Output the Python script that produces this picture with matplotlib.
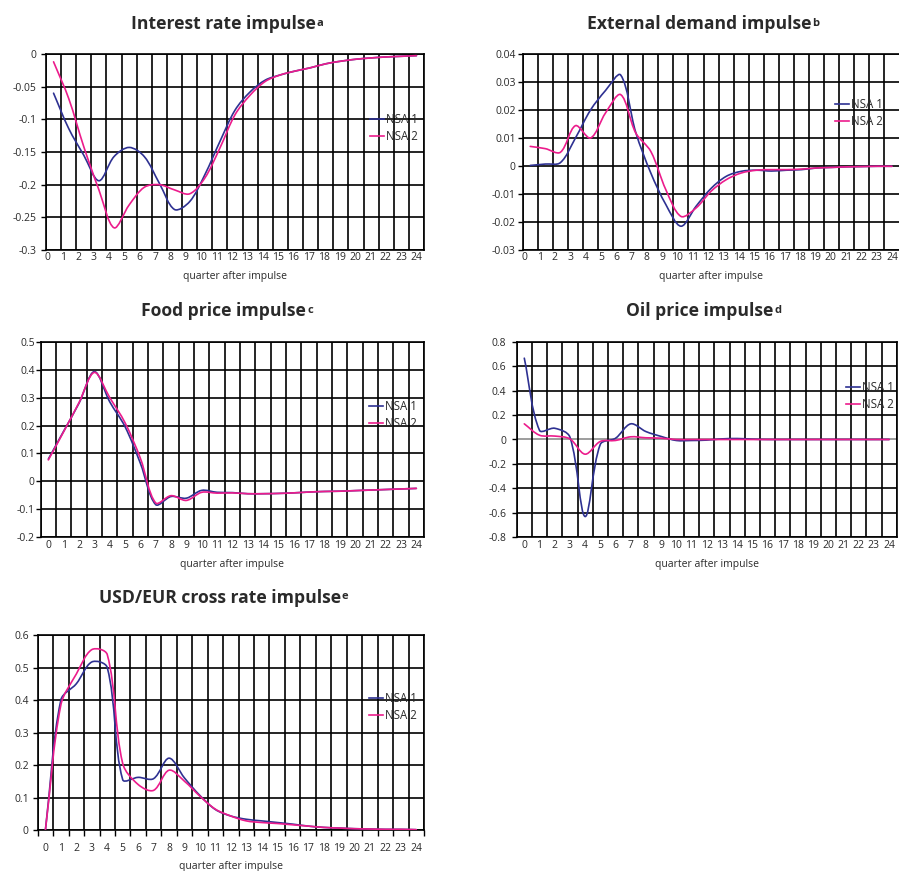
import numpy as np
import matplotlib
matplotlib.use("Agg")
import matplotlib.pyplot as plt
from matplotlib.path import Path
from matplotlib.patches import PathPatch
from matplotlib.lines import Line2D

plt.rcParams["font.family"] = ["Open Sans", "DejaVu Sans"]
plt.rcParams["axes.unicode_minus"] = False

quarters = list(range(25))
quarter_labels = [str(q) for q in quarters]
series_names = ["NSA 1", "NSA 2"]

interest_nsa1 = [-0.060, -0.114, -0.155, -0.194, -0.157, -0.143, -0.157, -0.198, -0.238, -0.226,
                 -0.185, -0.134, -0.086, -0.058, -0.040, -0.032, -0.026, -0.021, -0.015, -0.011,
                 -0.008, -0.006, -0.0045, -0.0035, -0.0025]
interest_nsa2 = [-0.012, -0.068, -0.142, -0.208, -0.266, -0.231, -0.204, -0.200, -0.208, -0.214,
                 -0.190, -0.144, -0.093, -0.063, -0.042, -0.032, -0.026, -0.021, -0.015, -0.011,
                 -0.008, -0.006, -0.0045, -0.0035, -0.0025]

demand_nsa1 = [0.0002, 0.0007, 0.0012, 0.0100, 0.0200, 0.0270, 0.0325, 0.0120, -0.0025, -0.0138,
               -0.0215, -0.0144, -0.0080, -0.0037, -0.0019, -0.0015, -0.0018, -0.0015, -0.0013, -0.0007,
               -0.0005, -0.0003, -0.0002, -0.0001, -0.0001]
demand_nsa2 = [0.0070, 0.0062, 0.0049, 0.0144, 0.0100, 0.0190, 0.0255, 0.0118, 0.0052, -0.0085,
               -0.0180, -0.0150, -0.0090, -0.0049, -0.0025, -0.0015, -0.0013, -0.0013, -0.0011, -0.0007,
               -0.0005, -0.0003, -0.0002, -0.0001, -0.0001]

food_nsa1 = [0.080, 0.180, 0.280, 0.393, 0.285, 0.196, 0.065, -0.083, -0.054, -0.060,
             -0.032, -0.039, -0.040, -0.044, -0.044, -0.043, -0.041, -0.038, -0.036, -0.035,
             -0.033, -0.031, -0.029, -0.027, -0.025]
food_nsa2 = [0.077, 0.178, 0.282, 0.390, 0.300, 0.210, 0.083, -0.077, -0.051, -0.068,
             -0.039, -0.042, -0.041, -0.044, -0.044, -0.043, -0.041, -0.038, -0.036, -0.035,
             -0.033, -0.031, -0.029, -0.027, -0.025]

oil_nsa1 = [0.665, 0.075, 0.092, 0.020, -0.630, -0.040, 0.010, 0.128, 0.065, 0.025,
            -0.008, -0.008, -0.005, 0.005, 0.008, 0.003, 0.0, 0.0, 0.0, 0.0,
            0.0, 0.0, 0.0, 0.0, 0.0]
oil_nsa2 = [0.128, 0.035, 0.028, 0.005, -0.120, -0.016, -0.008, 0.022, 0.014, 0.011,
            0.0, 0.0, 0.0, 0.0, 0.0, 0.0, 0.0, 0.0, 0.0, 0.0,
            0.0, 0.0, 0.0, 0.0, 0.0]

usd_nsa1 = [0.0, 0.400, 0.450, 0.517, 0.500, 0.155, 0.162, 0.158, 0.221, 0.160,
            0.106, 0.063, 0.043, 0.033, 0.028, 0.023, 0.018, 0.012, 0.008, 0.006,
            0.004, 0.003, 0.002, 0.002, 0.001]
usd_nsa2 = [0.0, 0.385, 0.480, 0.555, 0.540, 0.205, 0.140, 0.122, 0.184, 0.150,
            0.104, 0.064, 0.043, 0.028, 0.023, 0.020, 0.016, 0.012, 0.008, 0.006,
            0.004, 0.003, 0.002, 0.002, 0.001]

W, H = 899, 871
BLUE = "#2e3192"
PINK = "#ec1c8c"
TXT = "#2a2a2a"


def smooth_path(x, y, sx, sy):
    # smoothed line drawn as cubic beziers through every data point,
    # arms weighted by on-screen segment length (keeps steep drops from overshooting)
    p = np.column_stack([np.asarray(x, float) * sx, np.asarray(y, float) * sy])
    ext = np.vstack([p[0], p, p[-1]])
    verts = [p[0]]
    codes = [Path.MOVETO]
    for i in range(len(p) - 1):
        p0, p1, p2, p3 = ext[i], ext[i + 1], ext[i + 2], ext[i + 3]
        d01 = np.hypot(*(p1 - p0))
        d12 = np.hypot(*(p2 - p1))
        d23 = np.hypot(*(p3 - p2))
        c1 = p1 + (p2 - p0) * (d12 / (d01 + d12) if d01 + d12 else 0) / 3
        c2 = p2 - (p3 - p1) * (d12 / (d12 + d23) if d12 + d23 else 0) / 3
        verts += [c1, c2, p2]
        codes += [Path.CURVE4] * 3
    verts = np.array(verts) / [sx, sy]
    return Path(verts, codes)


def fmt(v):
    s = "%g" % round(v, 6)
    return "0" if s in ("-0", "0") else s


panels = [
    dict(title="Interest rate impulse", sup="a", series=(interest_nsa1, interest_nsa2),
         rect=(46, 54, 424, 250), yticks=np.arange(-0.3, 0.001, 0.05),
         labelpos=np.linspace(-0.4, 24.0, 25), tpos=(227, 29.3), leg=(370, 128), ypad=3.5,
         xticklen=0, xpad=1.5, zero_gray=False),
    dict(title="External demand impulse", sup="b", series=(demand_nsa1, demand_nsa2),
         rect=(522.7, 54, 899.5, 250), yticks=np.arange(-0.03, 0.0401, 0.01),
         labelpos=np.linspace(-0.4, 24.0, 25), tpos=(703, 29.3), leg=(835, 113), ypad=1.5,
         xticklen=0, xpad=1.5, zero_gray=False),
    dict(title="Food price impulse", sup="c", series=(food_nsa1, food_nsa2),
         rect=(40.7, 341.7, 424, 537.3), yticks=np.arange(-0.2, 0.501, 0.1),
         labelpos=np.array(quarters), tpos=(227, 316), leg=(369, 415), ypad=0.8,
         xticklen=0, xpad=2, zero_gray=False),
    dict(title="Oil price impulse", sup="d", series=(oil_nsa1, oil_nsa2),
         rect=(516.7, 341.7, 896.7, 537.3), yticks=np.arange(-0.8, 0.801, 0.2),
         labelpos=np.array(quarters), tpos=(703.5, 316), leg=(846, 396), ypad=4,
         xticklen=0, xpad=2, zero_gray=True),
    dict(title="USD/EUR cross rate impulse", sup="e", series=(usd_nsa1, usd_nsa2),
         rect=(37.7, 635, 424, 830), yticks=np.arange(0, 0.601, 0.1),
         labelpos=np.array(quarters), tpos=(223.5, 602.7), leg=(369, 707), ypad=3,
         xticklen=3, xpad=5, zero_gray=False),
]

fig = plt.figure(figsize=(W / 100, H / 100), dpi=100)
fig.patch.set_facecolor("white")
renderer = fig.canvas.get_renderer()

for p in panels:
    l, t, r, b = p["rect"]
    ax = fig.add_axes([l / W, 1 - b / H, (r - l) / W, (b - t) / H])
    ax.set_xlim(-0.5, 24.5)
    yt = p["yticks"]
    ax.set_ylim(yt[0], yt[-1])

    # grid: horizontal at value ticks, vertical at category boundaries
    for v in yt:
        c = "#8c8c8c" if (p["zero_gray"] and abs(v) < 1e-9) else "black"
        ax.axhline(v, color=c, lw=1.2, zorder=1)
    for k in np.arange(-0.5, 24.6, 1.0):
        ax.axvline(k, color="black", lw=1.2, zorder=1)

    sx = (r - l) / 25.0
    sy = (b - t) / (yt[-1] - yt[0])
    for vals, col in zip(p["series"], (BLUE, PINK)):
        ax.add_patch(PathPatch(smooth_path(quarters, vals, sx, sy), fill=False, edgecolor=col,
                               lw=1.2, zorder=3, capstyle="round", joinstyle="round"))

    ax.set_yticks(yt)
    ax.set_yticklabels([fmt(v) for v in yt])
    ax.set_xticks(p["labelpos"])
    ax.set_xticklabels(quarter_labels)
    if p["xticklen"]:
        ax.set_xticks(np.arange(-0.5, 24.6, 1.0), minor=True)
        ax.tick_params(axis="x", which="minor", length=p["xticklen"] * 1.4, width=1.0, color="black")
    ax.tick_params(axis="x", which="major", length=0, pad=p["xpad"] + p["xticklen"] * 1.4,
                   labelsize=7.5, labelcolor=TXT)
    ax.tick_params(axis="y", length=3.5, width=1.0, pad=p["ypad"], labelsize=7.5, labelcolor=TXT)
    ax.set_xlabel("quarter after impulse", fontsize=7.5, color=TXT, labelpad=5.5)
    for s in ax.spines.values():
        s.set_color("black")
        s.set_linewidth(1.2)

    handles = [Line2D([], [], color=BLUE, lw=1.2), Line2D([], [], color=PINK, lw=1.2)]
    lx, ly = p["leg"]
    fig.legend(handles, series_names, loc="center left", bbox_to_anchor=(lx / W, 1 - ly / H),
               frameon=False, fontsize=8.3, handlelength=1.2, handletextpad=0.15,
               labelspacing=0.3, borderpad=0, borderaxespad=0, labelcolor=TXT)

    # title with a small raised footnote letter, centred as one unit
    cx, by = p["tpos"]
    main = fig.text(0, 1 - by / H, p["title"], ha="left", va="baseline",
                    fontsize=12.6, fontweight="bold", color=TXT)
    sup = fig.text(0, 1 - (by - 3.3) / H, p["sup"], ha="left", va="baseline",
                   fontsize=8, fontweight="bold", color=TXT)
    wm = main.get_window_extent(renderer).width
    ws = sup.get_window_extent(renderer).width
    x0 = cx - (wm + ws + 1) / 2
    main.set_x(x0 / W)
    sup.set_x((x0 + wm + 1) / W)

fig.savefig("out.png", dpi=100, facecolor="white")
